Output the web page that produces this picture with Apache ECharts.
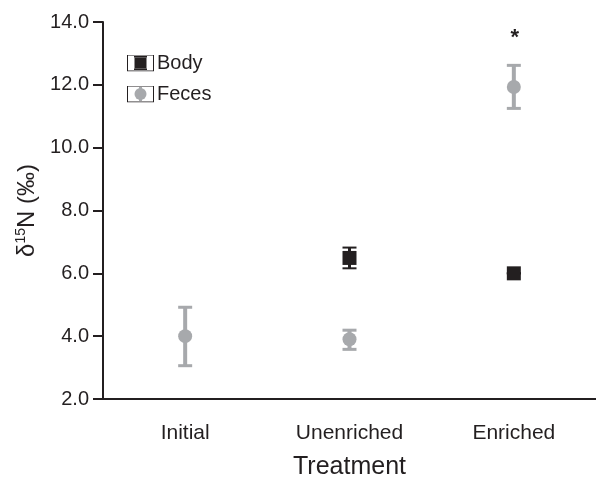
<!DOCTYPE html>
<html>
<head>
<meta charset="utf-8">
<script src="https://cdn.jsdelivr.net/npm/echarts@6/dist/echarts.min.js"></script>
<style>
  html, body { margin: 0; padding: 0; background: #fff; }
  #chart { width: 596px; height: 478px; }
</style>
</head>
<body>
<div id="chart"></div>
<script>
var categories = ['Initial', 'Unenriched', 'Enriched']
// mean values, null = not measured
var bodyMean = [null, 6.49, 6.0]
var bodyLow = [null, 6.16, 6.0]
var bodyHigh = [null, 6.82, 6.0]
var fecesMean = [4.0, 3.9, 11.93]
var fecesLow = [3.06, 3.58, 11.25]
var fecesHigh = [4.92, 4.19, 12.62]
var sigMarks = ['', '', '*']
var yTicks = [2, 4, 6, 8, 10, 12, 14]

var dark = '#231f20'
var grey = '#a7a9ac'
var font = '"Liberation Sans", Arial, Helvetica, sans-serif'

function svgIcon(svg) {
  return 'image://data:image/svg+xml;utf8,' + encodeURIComponent(svg)
}
var bodyIcon = svgIcon(
  '<svg xmlns="http://www.w3.org/2000/svg" width="27" height="17" viewBox="0 0 27 17">' +
  '<rect x="0.5" y="0.5" width="26" height="16" fill="#fff" stroke="' + dark + '" stroke-width="1"/>' +
  '<rect x="7.5" y="3" width="12" height="11" fill="' + dark + '"/>' +
  '<rect x="7" y="1.5" width="13" height="1.5" fill="' + dark + '"/>' +
  '<rect x="7" y="14" width="13" height="1.5" fill="' + dark + '"/>' +
  '</svg>')
var fecesIcon = svgIcon(
  '<svg xmlns="http://www.w3.org/2000/svg" width="27" height="17" viewBox="0 0 27 17">' +
  '<rect x="0.5" y="0.5" width="26" height="16" fill="#fff" stroke="' + dark + '" stroke-width="1"/>' +
  '<rect x="12" y="1.5" width="3" height="14" fill="' + grey + '"/>' +
  '<circle cx="13.5" cy="8.5" r="6" fill="' + grey + '"/>' +
  '</svg>')

function errData(low, high, marks) {
  var out = []
  for (var i = 0; i < low.length; i++) {
    if (low[i] == null) continue
    out.push([i, low[i], high[i], marks ? marks[i] : ''])
  }
  return out
}

function errRender(color, lineW, capW, capH) {
  return function (params, api) {
    var top = api.coord([api.value(0), api.value(2)])
    var bot = api.coord([api.value(0), api.value(1)])
    var x = top[0]
    var children = [
      { type: 'rect', shape: { x: x - lineW / 2, y: top[1], width: lineW, height: bot[1] - top[1] }, style: { fill: color } },
      { type: 'rect', shape: { x: x - capW / 2, y: top[1] - capH / 2, width: capW, height: capH }, style: { fill: color } },
      { type: 'rect', shape: { x: x - capW / 2, y: bot[1] - capH / 2, width: capW, height: capH }, style: { fill: color } }
    ]
    var mark = api.value(3)
    if (mark && mark !== '-') {
      children.push({
        type: 'text',
        style: { text: mark, x: x + 1, y: top[1] - 27, align: 'center', verticalAlign: 'middle', fill: dark, font: 'bold 22px ' + font }
      })
    }
    return { type: 'group', children: children }
  }
}

var chart = echarts.init(document.getElementById('chart'))
chart.setOption({
  animation: false,
  textStyle: { fontFamily: font },
  grid: { left: 103, right: 0, top: 22, bottom: 79, containLabel: false, outerBoundsMode: 'none' },
  legend: {
    orient: 'vertical',
    left: 127,
    top: 53,
    itemWidth: 27,
    itemHeight: 17,
    itemGap: 11,
    padding: 0,
    textStyle: { fontSize: 20, color: dark, fontFamily: font, padding: [0, 0, 0, -2] },
    data: [{ name: 'Body', icon: bodyIcon }, { name: 'Feces', icon: fecesIcon }]
  },
  xAxis: {
    type: 'category',
    data: categories,
    name: 'Treatment',
    nameLocation: 'middle',
    nameGap: 56,
    nameTextStyle: { fontSize: 25, color: dark, fontFamily: font },
    axisLine: { lineStyle: { color: dark, width: 2 } },
    axisTick: { alignWithLabel: true, length: 10, lineStyle: { color: dark, width: 2 } },
    axisLabel: { fontSize: 21, color: dark, margin: 24, fontFamily: font }
  },
  yAxis: {
    type: 'value',
    min: yTicks[0],
    max: yTicks[yTicks.length - 1],
    interval: 2,
    name: '{a|δ}{s|15}{a|N (‰)}',
    nameLocation: 'middle',
    nameGap: 62,
    nameTextStyle: {
      color: dark,
      rich: {
        a: { fontSize: 24, color: dark, fontFamily: font, lineHeight: 26 },
        s: { fontSize: 14, color: dark, fontFamily: font, verticalAlign: 'top', lineHeight: 26, padding: [0, 0, 9, 0] }
      }
    },
    splitLine: { show: false },
    axisLine: { show: true, lineStyle: { color: dark, width: 2 } },
    axisTick: { show: true, length: 10, lineStyle: { color: dark, width: 2 } },
    axisLabel: { fontSize: 20, color: dark, margin: 14, fontFamily: font, formatter: function (v) { return v.toFixed(1) } }
  },
  series: [
    {
      name: 'bodyErr',
      type: 'custom',
      z: 1,
      renderItem: errRender(dark, 3, 14, 2),
      encode: { x: 0, y: [1, 2] },
      data: errData(bodyLow, bodyHigh)
    },
    {
      name: 'fecesErr',
      type: 'custom',
      z: 1,
      renderItem: errRender(grey, 4, 14, 3),
      encode: { x: 0, y: [1, 2] },
      data: errData(fecesLow, fecesHigh, sigMarks)
    },
    {
      name: 'Body',
      type: 'scatter',
      z: 3,
      symbol: 'rect',
      symbolSize: 14,
      itemStyle: { color: dark, opacity: 1 },
      data: bodyMean
    },
    {
      name: 'Feces',
      type: 'scatter',
      z: 3,
      symbol: 'circle',
      symbolSize: 14,
      itemStyle: { color: grey, opacity: 1 },
      data: fecesMean
    }
  ]
})
</script>
</body>
</html>
